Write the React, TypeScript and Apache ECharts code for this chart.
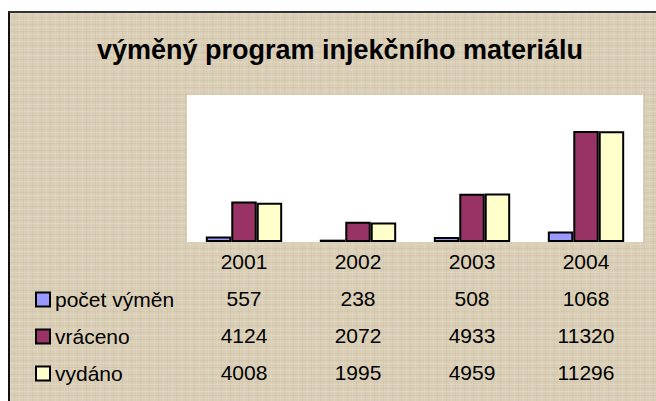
import React, { useEffect, useRef } from "react";
import * as echarts from "echarts";

const title = "výměný program injekčního materiálu";
const years = ["2001", "2002", "2003", "2004"];
const seriesNames = ["počet výměn", "vráceno", "vydáno"];
const pocetVymen = [557, 238, 508, 1068];
const vraceno = [4124, 2072, 4933, 11320];
const vydano = [4008, 1995, 4959, 11296];
const seriesColors = ["#9999FF", "#993366", "#FFFFCC"];

const texture =
  "repeating-linear-gradient(0deg, rgba(255,255,255,0.12) 0px, rgba(255,255,255,0.12) 1px, rgba(0,0,0,0) 1px, rgba(0,0,0,0) 3px, rgba(120,100,70,0.06) 3px, rgba(120,100,70,0.06) 4px, rgba(0,0,0,0) 4px, rgba(0,0,0,0) 7px)," +
  "repeating-linear-gradient(90deg, rgba(255,255,255,0.10) 0px, rgba(255,255,255,0.10) 1px, rgba(0,0,0,0) 1px, rgba(0,0,0,0) 4px, rgba(120,100,70,0.06) 4px, rgba(120,100,70,0.06) 5px, rgba(0,0,0,0) 5px, rgba(0,0,0,0) 9px)";

const FONT = "Liberation Sans, Arial, sans-serif";

export default function App() {
  const ref = useRef<HTMLDivElement>(null);

  useEffect(() => {
    if (!ref.current) return;
    const chart = echarts.init(ref.current, null, { renderer: "svg" });
    const allSeries = [pocetVymen, vraceno, vydano];
    chart.setOption({
      animation: false,
      backgroundColor: "transparent",
      textStyle: { fontFamily: FONT },
      title: {
        text: title,
        left: 335,
        textAlign: "center",
        top: 31,
        textStyle: {
          fontFamily: FONT,
          fontWeight: "bold",
          fontSize: 27,
          color: "#000",
        },
      },
      legend: {
        orient: "vertical",
        left: 35,
        top: 289,
        height: 120,
        padding: 0,
        itemWidth: 14,
        itemHeight: 14,
        itemGap: 16,
        itemTextGap: 5,
        icon: "rect",
        data: seriesNames,
        itemStyle: { borderColor: "#000", borderWidth: 2 },
        textStyle: {
          fontSize: 21,
          color: "#000",
          fontFamily: FONT,
        },
      },
      grid: {
        left: 187,
        right: 13,
        top: 95,
        bottom: 159,
        show: true,
        backgroundColor: "#ffffff",
        borderWidth: 0,
      },
      xAxis: {
        type: "category",
        data: years,
        axisLine: { show: false },
        axisTick: { show: false },
        axisLabel: {
          margin: 1,
          formatter: (val: string, idx: number) =>
            `{y|${val}}\n{v|${pocetVymen[idx]}}\n{v|${vraceno[idx]}}\n{v|${vydano[idx]}}`,
          rich: {
            y: { fontSize: 21, lineHeight: 37, color: "#000", fontFamily: FONT },
            v: { fontSize: 21, lineHeight: 37, color: "#000", fontFamily: FONT },
          },
        },
      },
      yAxis: {
        type: "value",
        min: 0,
        max: 15000,
        show: false,
        splitLine: { show: false },
      },
      series: seriesNames.map((name, i) => ({
        name,
        type: "bar",
        data: allSeries[i],
        barGap: "0%",
        barCategoryGap: "33%",
        itemStyle: {
          color: seriesColors[i],
          borderColor: "#000",
          borderWidth: 2,
        },
      })),
    });
    return () => chart.dispose();
  }, []);

  return (
    <div style={{ position: "fixed", left: 0, top: 0, width: 656, height: 401, background: "#fff", overflow: "hidden" }}>
      <div
        style={{
          position: "absolute",
          left: 8,
          top: 11,
          width: 660,
          height: 400,
          borderLeft: "2px solid #111",
          borderTop: "2px solid #333",
          backgroundColor: "#dacfb6",
          backgroundImage: texture,
        }}
      />
      <div ref={ref} style={{ position: "absolute", left: 0, top: 0, width: 656, height: 401 }} />
    </div>
  );
}
